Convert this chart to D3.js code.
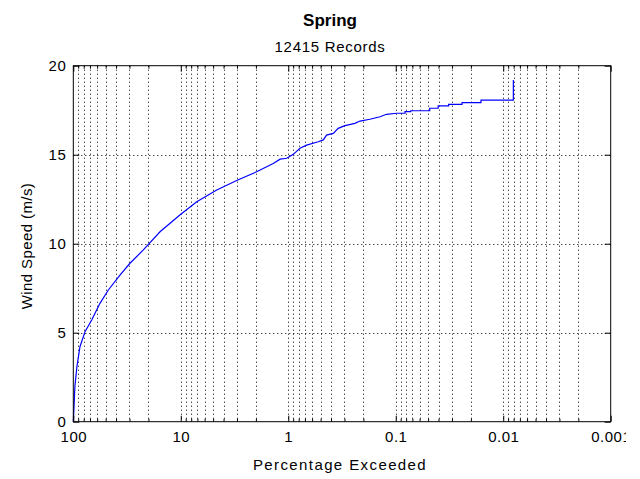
<!DOCTYPE html>
<html>
<head>
<meta charset="utf-8">
<script src="https://cdn.jsdelivr.net/npm/d3@7"></script>
<style>
  html, body { margin: 0; padding: 0; background: #fff; }
  svg { display: block; font-family: "Liberation Sans", Arial, Helvetica, sans-serif; }
</style>
</head>
<body>
<svg id="chart" width="640" height="479"></svg>
<script>
// ---- data ----
const titleText = "Spring";
const subtitleText = "12415 Records";
const xLabel = "Percentage Exceeded";
const yLabel = "Wind Speed (m/s)";

const xMajorTicks = [100, 10, 1, 0.1, 0.01, 0.001];
const xTickLabels = ["100", "10", "1", "0.1", "0.01", "0.001"];
const yTicks = [0, 5, 10, 15, 20];
const yTickLabels = ["0", "5", "10", "15", "20"];

// percentage exceeded (%) and wind speed (m/s) along the curve
const pctExceeded = [100, 99.2, 98.2, 97.3, 96.4, 92.5, 86.7, 77.8, 67.4, 56.5, 47.2, 36.8, 29.7, 22.3,
  15.6, 10.2, 7.1, 4.63, 2.95, 1.97, 1.38, 1.19, 1.035, 0.898, 0.778, 0.675, 0.526, 0.472, 0.44,
  0.381, 0.343, 0.297, 0.24, 0.215, 0.174, 0.14, 0.122, 0.098, 0.082, 0.082, 0.0725, 0.0725,
  0.0483, 0.0483, 0.0403, 0.0403, 0.0322, 0.0322, 0.02416, 0.02416, 0.0161, 0.0161, 0.00805, 0.00805];
const windSpeed = [0, 0.4, 1.0, 1.6, 2.06, 3.1, 4.21, 5.06, 5.71, 6.65, 7.4, 8.24, 8.9, 9.65,
  10.67, 11.61, 12.36, 13.02, 13.58, 14.04, 14.51, 14.75, 14.8, 15.02, 15.36, 15.54, 15.73, 15.83, 16.1,
  16.2, 16.48, 16.63, 16.76, 16.89, 16.99, 17.13, 17.27, 17.33, 17.33, 17.42, 17.42, 17.47,
  17.47, 17.61, 17.61, 17.74, 17.74, 17.83, 17.83, 17.92, 17.92, 18.07, 18.07, 19.2];

// ---- layout ----
const svg = d3.select("#chart");
const L = 73.3, R = 610.7, T = 65.7, B = 421.7;

const x = d3.scaleLog().domain([100, 0.001]).range([L, R]);
const y = d3.scaleLinear().domain([0, 20]).range([B, T]);

// all minor/major log positions
const allLog = [];
for (let e = 2; e >= -3; e--) {
  for (let d = 9; d >= 1; d--) {
    const v = d * Math.pow(10, e - 1);
    if (v <= 100 && v >= 0.001) allLog.push(+v.toPrecision(6));
  }
}
const minorLog = allLog.filter(v => !xMajorTicks.some(m => Math.abs(Math.log10(m) - Math.log10(v)) < 1e-9));
const gridX = allLog.filter(v => v < 100 && v > 0.001);

// grid
const grid = svg.append("g").attr("stroke", "#000").attr("stroke-width", 1)
  .attr("stroke-dasharray", "1,3").attr("fill", "none");
grid.selectAll("line.gx").data(gridX).join("line")
  .attr("x1", d => Math.round(x(d)) + 0.5).attr("x2", d => Math.round(x(d)) + 0.5)
  .attr("y1", T).attr("y2", B);
grid.selectAll("line.gy").data(yTicks.filter(v => v > 0 && v < 20)).join("line")
  .attr("y1", d => Math.round(y(d)) + 0.5).attr("y2", d => Math.round(y(d)) + 0.5)
  .attr("x1", L).attr("x2", R);

// curve
const pts = pctExceeded.map((p, i) => [p, windSpeed[i]]);
svg.append("path").datum(pts)
  .attr("fill", "none").attr("stroke", "#0000ff").attr("stroke-width", 1.2)
  .attr("d", d3.line().x(d => x(d[0])).y(d => y(d[1])));

// axes
const fmt = v => xTickLabels[xMajorTicks.indexOf(v)];
const axStyle = g => {
  g.select(".domain").remove();
  g.selectAll("line").attr("stroke", "#000");
  g.selectAll("text").attr("fill", "#000").attr("font-size", 15).attr("letter-spacing", 0.5);
};

svg.append("defs").append("clipPath").attr("id", "clipFig")
  .append("rect").attr("x", -10).attr("y", -20).attr("width", 636).attr("height", 100);

svg.append("g").attr("transform", `translate(0,${B})`)
  .call(d3.axisBottom(x).tickValues(xMajorTicks).tickFormat(fmt).tickSizeInner(-6).tickSizeOuter(0).tickPadding(10))
  .call(axStyle).attr("clip-path", "url(#clipFig)");
svg.append("g").attr("transform", `translate(0,${B})`)
  .call(d3.axisBottom(x).tickValues(minorLog).tickFormat("").tickSizeInner(-3).tickSizeOuter(0))
  .call(axStyle);
svg.append("g").attr("transform", `translate(0,${T})`)
  .call(d3.axisTop(x).tickValues(xMajorTicks).tickFormat("").tickSizeInner(-6).tickSizeOuter(0))
  .call(axStyle);
svg.append("g").attr("transform", `translate(0,${T})`)
  .call(d3.axisTop(x).tickValues(minorLog).tickFormat("").tickSizeInner(-3).tickSizeOuter(0))
  .call(axStyle);
svg.append("g").attr("transform", `translate(${L},0)`)
  .call(d3.axisLeft(y).tickValues(yTicks).tickFormat((d, i) => yTickLabels[i]).tickSizeInner(-6).tickSizeOuter(0).tickPadding(7))
  .call(axStyle);
svg.append("g").attr("transform", `translate(${R},0)`)
  .call(d3.axisRight(y).tickValues(yTicks).tickFormat("").tickSizeInner(-6).tickSizeOuter(0))
  .call(axStyle);

// frame
svg.append("rect").attr("x", L).attr("y", T).attr("width", R - L).attr("height", B - T)
  .attr("fill", "none").attr("stroke", "#000").attr("stroke-width", 1);

// titles
svg.append("text").attr("x", 330).attr("y", 26).attr("text-anchor", "middle")
  .attr("font-size", 17).attr("font-weight", "bold").text(titleText);
svg.append("text").attr("x", 330).attr("y", 52).attr("text-anchor", "middle")
  .attr("font-size", 15).attr("letter-spacing", 0.7).text(subtitleText);
svg.append("text").attr("x", 340).attr("y", 470).attr("text-anchor", "middle")
  .attr("font-size", 15).attr("letter-spacing", 1.4).text(xLabel);
svg.append("text").attr("transform", "translate(32,246) rotate(-90)").attr("text-anchor", "middle")
  .attr("font-size", 15).attr("letter-spacing", 0.4).text(yLabel);
</script>
</body>
</html>
